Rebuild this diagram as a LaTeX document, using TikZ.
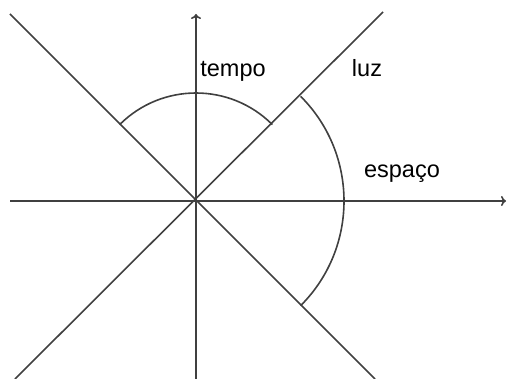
\documentclass[tikz,border=0pt]{standalone}
\usepackage{fontspec}
\setmainfont{Liberation Sans}
\usetikzlibrary{arrows.meta,calc}
\begin{document}
\begin{tikzpicture}[x=1pt,y=-1pt,
  ln/.style={draw=black!75,line width=1.6pt},
  lbl/.style={font=\fontsize{23.5}{26}\selectfont,inner sep=0pt,anchor=base}]
\useasboundingbox (0,0) rectangle (508,379);
\coordinate (O) at (196,201);
\coordinate (xl) at (10,201);
\coordinate (xr) at (506,201);
\coordinate (yb) at (196,379);
\coordinate (yt) at (196,14);
\coordinate (d1a) at (10,14);
\coordinate (d1b) at (375,379);
\coordinate (d2a) at (383,12);
\coordinate (d2b) at (15,379);
\draw[ln,-{To[length=5pt,width=10pt]}] (xl) -- (xr);
\draw[ln,-{To[length=5pt,width=10pt]}] (yb) -- (yt);
\draw[ln] (d1a) -- (d1b);
\draw[ln] (d2a) -- (d2b);
\draw[ln] ($(O)+(-45:108)$) arc[start angle=-45,end angle=-135,radius=108];
\draw[ln] ($(O)+(-45:148)$) arc[start angle=-45,end angle=45,radius=148];
\node[lbl] (tempo) at (233,77) {tempo};
\node[lbl] (luz) at (367,77) {luz};
\node[lbl] (espaco) at (402,178) {espaço};
\end{tikzpicture}
\end{document}
